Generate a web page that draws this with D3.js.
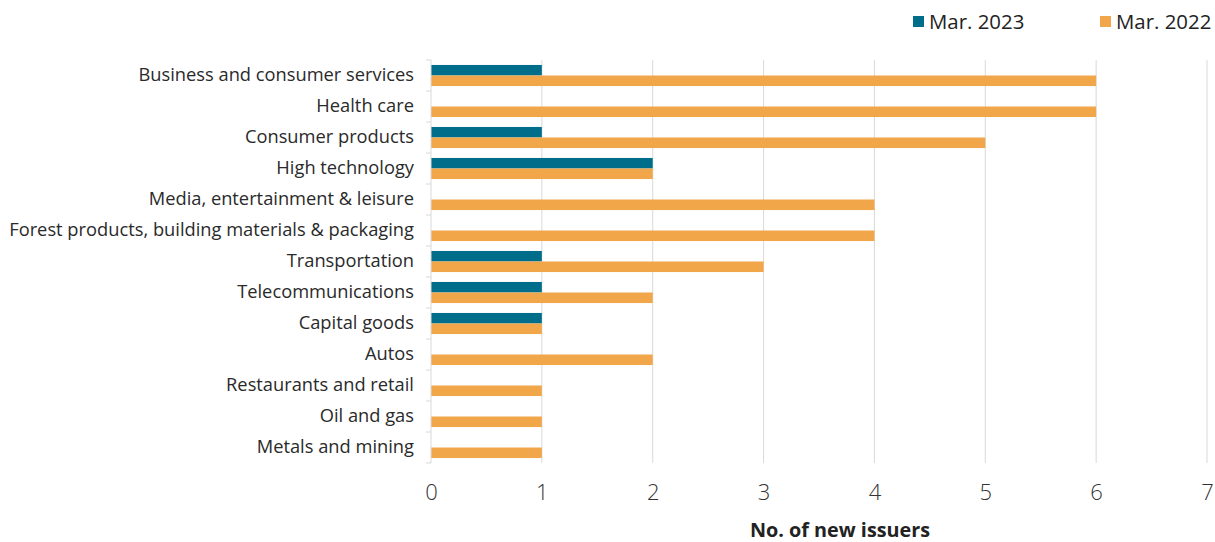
<!DOCTYPE html>
<html>
<head>
<meta charset="utf-8">
<script src="https://cdn.jsdelivr.net/npm/d3@7"></script>
<style>
  body { margin: 0; background: #fff; }
  svg { display: block; }
  text { font-family: "Open Sans", Roboto, sans-serif; fill: #222; }
</style>
</head>
<body>
<svg id="chart" width="1215" height="542"></svg>
<script>
const categories = [
  "Business and consumer services",
  "Health care",
  "Consumer products",
  "High technology",
  "Media, entertainment & leisure",
  "Forest products, building materials & packaging",
  "Transportation",
  "Telecommunications",
  "Capital goods",
  "Autos",
  "Restaurants and retail",
  "Oil and gas",
  "Metals and mining"
];
const mar2023 = [1, 0, 1, 2, 0, 0, 1, 1, 1, 0, 0, 0, 0];
const mar2022 = [6, 6, 5, 2, 4, 4, 3, 2, 1, 2, 1, 1, 1];
const seriesNames = ["Mar. 2023", "Mar. 2022"];
const seriesColors = ["#006e8a", "#f2a64a"];
const xTicks = [0, 1, 2, 3, 4, 5, 6, 7];

const svg = d3.select("#chart");
const margin = { left: 431, right: 8, top: 60, bottom: 79 };
const W = 1215, H = 542;

const x = d3.scaleLinear().domain([0, 7]).range([margin.left, W - margin.right]);
const y = d3.scaleBand().domain(categories).range([margin.top, H - margin.bottom]).paddingInner(0.32).paddingOuter(0.16);
const ySub = d3.scaleBand().domain(seriesNames).range([0, y.bandwidth()]);
const step = (H - margin.bottom - margin.top) / categories.length;

// vertical gridlines
svg.append("g")
  .selectAll("line")
  .data(xTicks.slice(1))
  .join("line")
  .attr("x1", d => x(d)).attr("x2", d => x(d))
  .attr("y1", margin.top).attr("y2", H - margin.bottom)
  .attr("stroke", "#d9d9d9").attr("stroke-width", 1);

// bars
const rows = categories.map((c, i) => ({ c, vals: [mar2023[i], mar2022[i]] }));
const grp = svg.append("g").selectAll("g").data(rows).join("g")
  .attr("transform", d => `translate(0,${y(d.c)})`);
grp.selectAll("rect")
  .data(d => d.vals.map((v, k) => ({ v, k })).filter(e => e.v > 0))
  .join("rect")
  .attr("x", x(0))
  .attr("y", e => ySub(seriesNames[e.k]))
  .attr("width", e => x(e.v) - x(0))
  .attr("height", ySub.bandwidth())
  .attr("fill", e => seriesColors[e.k]);

// y axis line, category boundary ticks and labels
const yAxisG = svg.append("g");
yAxisG.append("line")
  .attr("x1", x(0)).attr("x2", x(0))
  .attr("y1", margin.top).attr("y2", H - margin.bottom)
  .attr("stroke", "#d9d9d9");
yAxisG.selectAll("line.tick")
  .data(d3.range(categories.length + 1))
  .join("line").attr("class", "tick")
  .attr("x1", x(0) - 5).attr("x2", x(0))
  .attr("y1", i => margin.top + i * step).attr("y2", i => margin.top + i * step)
  .attr("stroke", "#d9d9d9");
yAxisG.selectAll("text")
  .data(categories)
  .join("text")
  .attr("x", 414)
  .attr("y", d => y(d) + y.bandwidth() / 2 - 1)
  .attr("dy", "0.35em")
  .attr("text-anchor", "end")
  .attr("font-size", 18.3)
  .style("fill", "#2a2a2a")
  .text(d => d);

// x axis tick labels
const xAxis = d3.axisBottom(x).tickValues(xTicks).tickFormat(d3.format("d")).tickSize(0).tickPadding(0);
const xg = svg.append("g").attr("transform", `translate(0,${H - margin.bottom})`).call(xAxis);
xg.select(".domain").remove();
xg.selectAll("text")
  .attr("y", 37)
  .attr("dy", 0)
  .attr("font-size", 22)
  .attr("font-weight", 300)
  .attr("font-family", "Roboto, sans-serif")
  .style("fill", "#333");

// axis title
svg.append("text")
  .attr("x", 840).attr("y", 537)
  .attr("text-anchor", "middle")
  .attr("font-size", 19.8)
  .attr("font-weight", 700)
  .text("No. of new issuers");

// legend
const legendX = [913, 1100];
const lg = svg.append("g").selectAll("g").data(seriesNames).join("g")
  .attr("transform", (d, i) => `translate(${legendX[i]},0)`);
lg.append("rect").attr("x", 0).attr("y", 16).attr("width", 11).attr("height", 11)
  .attr("fill", (d, i) => seriesColors[i]);
lg.append("text").attr("x", 16).attr("y", 29)
  .attr("font-size", 20.4)
  .text(d => d);
</script>
</body>
</html>
